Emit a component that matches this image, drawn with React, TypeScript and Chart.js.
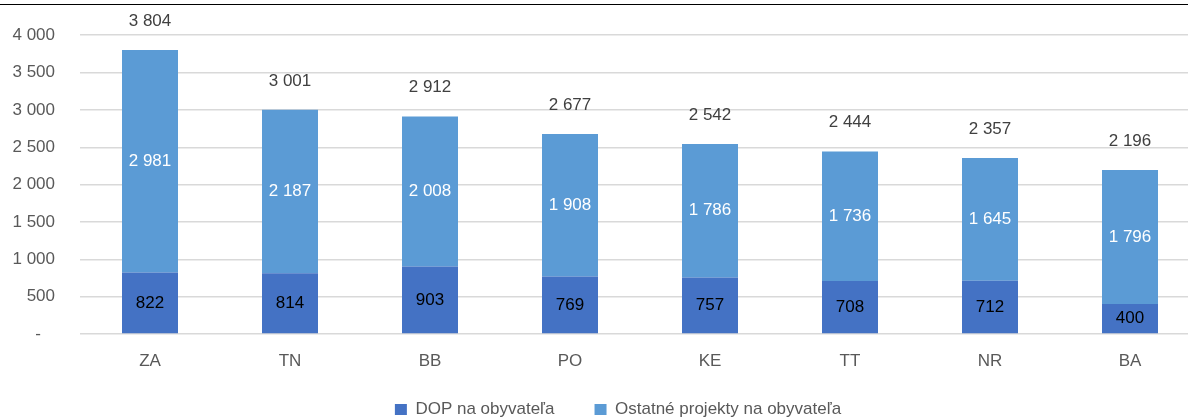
import React, { useEffect, useRef } from "react";
import { Chart, registerables } from "chart.js";

Chart.register(...registerables);

const categories = ["ZA", "TN", "BB", "PO", "KE", "TT", "NR", "BA"];
const dopValues = [822, 814, 903, 769, 757, 708, 712, 400];
const otherValues = [2981, 2187, 2008, 1908, 1786, 1736, 1645, 1796];
const totals = [3804, 3001, 2912, 2677, 2542, 2444, 2357, 2196];
const seriesNames = ["DOP na obyvateľa", "Ostatné projekty na obyvateľa"];
const yTicks = [0, 500, 1000, 1500, 2000, 2500, 3000, 3500, 4000];

const FONT = "'Liberation Sans', Arial, sans-serif";
const FS = 17;
const fmt = (n: number) => String(n).replace(/\B(?=(\d{3})+(?!\d))/g, " ");

const labelPlugin = {
  id: "barLabels",
  afterDatasetsDraw(chart: any) {
    const ctx = chart.ctx;
    ctx.save();
    ctx.font = `${FS}px ${FONT}`;
    ctx.textAlign = "center";
    ctx.textBaseline = "middle";
    const m0 = chart.getDatasetMeta(0);
    const m1 = chart.getDatasetMeta(1);
    m0.data.forEach((bar: any, i: number) => {
      const { x, y, base } = bar.getProps(["x", "y", "base"], true);
      ctx.fillStyle = "#000000";
      ctx.fillText(fmt(dopValues[i]), x, (y + base) / 2);
    });
    m1.data.forEach((bar: any, i: number) => {
      const { x, y, base } = bar.getProps(["x", "y", "base"], true);
      ctx.fillStyle = "#ffffff";
      ctx.fillText(fmt(otherValues[i]), x, (y + base) / 2);
      ctx.fillStyle = "#404040";
      const yTop = chart.scales.y.getPixelForValue(totals[i]);
      ctx.fillText(fmt(totals[i]), x, yTop - 29);
    });
    ctx.restore();
  },
};

// Widen the spacing between legend items without changing the layout height
const legendTweak = {
  id: "legendTweak",
  afterLayout(chart: any) {
    const lg = chart.legend;
    if (!lg) return;
    const base = lg.options.labels.padding;
    const wide = 40;
    lg.options.labels.padding = wide;
    lg.top -= wide - base;
    lg.bottom -= wide - base;
    lg.left += 7;
    lg.right += 7;
  },
};

export default function App() {
  const ref = useRef<HTMLCanvasElement>(null);
  useEffect(() => {
    if (!ref.current) return;
    const chart = new Chart(ref.current, {
      type: "bar",
      data: {
        labels: categories,
        datasets: [
          {
            label: seriesNames[0],
            data: dopValues,
            backgroundColor: "#4472C4",
            barPercentage: 0.4,
            categoryPercentage: 1,
          },
          {
            label: seriesNames[1],
            data: otherValues,
            backgroundColor: "#5B9BD5",
            barPercentage: 0.4,
            categoryPercentage: 1,
          },
        ],
      },
      options: {
        animation: false,
        responsive: false,
        maintainAspectRatio: false,
        layout: { padding: { top: 35, left: 0, right: 0, bottom: 2 } },
        plugins: {
          tooltip: { enabled: false },
          legend: {
            position: "bottom",
            labels: {
              color: "#595959",
              font: { family: FONT, size: FS },
              boxWidth: 12,
              boxHeight: 11,
              padding: 29,
            },
          },
        },
        scales: {
          x: {
            stacked: true,
            grid: { display: false, drawTicks: false },
            border: { display: false },
            ticks: {
              color: "#595959",
              font: { family: FONT, size: FS },
              padding: 17,
            },
            afterFit(scale: any) {
              scale.height = 38;
            },
          },
          y: {
            stacked: true,
            min: 0,
            max: 4000,
            afterBuildTicks(scale: any) {
              scale.ticks = yTicks.map((v) => ({ value: v }));
            },
            grid: { color: "#d9d9d9", lineWidth: 1.5, drawTicks: false },
            border: { display: false },
            ticks: {
              color: "#595959",
              font: { family: FONT, size: FS },
              padding: 25,
              callback: (v: any) => (Number(v) === 0 ? "-   " : fmt(Number(v))),
            },
            afterFit(scale: any) {
              scale.width = 80;
            },
          },
        },
      },
      plugins: [labelPlugin, legendTweak],
    });
    return () => chart.destroy();
  }, []);
  return (
    <div style={{ position: "fixed", left: 0, top: 0, width: 1188, height: 419, overflow: "hidden", background: "#fff" }}>
      <div style={{ position: "absolute", left: 0, top: 4, width: 1188, height: 1, background: "#000" }} />
      <canvas ref={ref} width={1200} height={430} style={{ position: "absolute", left: 0, top: 0 }} />
    </div>
  );
}
